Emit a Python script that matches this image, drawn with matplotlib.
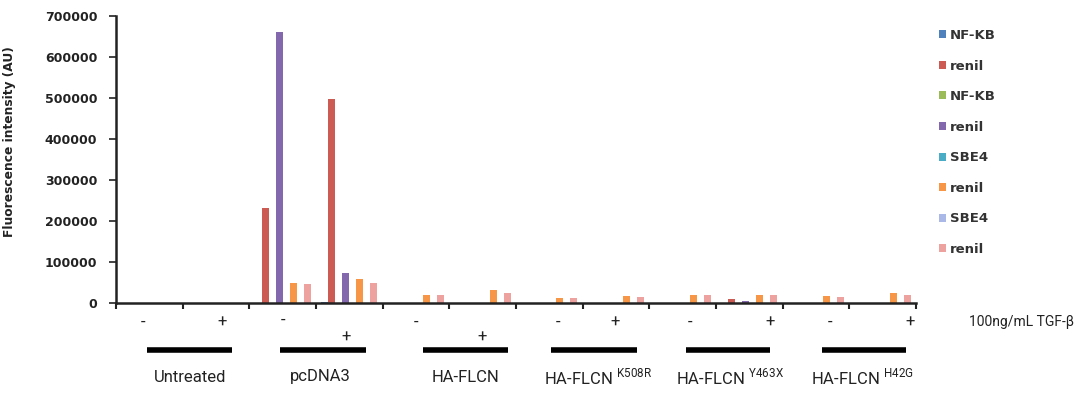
import numpy as np
import matplotlib
matplotlib.use("Agg")
import matplotlib.pyplot as plt
import matplotlib.transforms as mtransforms
from matplotlib.patches import Patch

# luciferase readings, one value per sample (6 constructs x -/+ TGF-beta)
groups = ["Untreated", "pcDNA3", "HA-FLCN",
          "HA-FLCN $^{\\mathregular{K508R}}$",
          "HA-FLCN $^{\\mathregular{Y463X}}$",
          "HA-FLCN $^{\\mathregular{H42G}}$"]
treatment = ["-", "+"] * 6

nfkb_1 = [0, 0, 0, 3000, 0, 0, 0, 0, 0, 0, 0, 0]
renil_1 = [0, 0, 232000, 497000, 0, 0, 0, 0, 0, 10000, 0, 0]
nfkb_2 = [0, 0, 0, 0, 0, 0, 0, 0, 0, 0, 0, 0]
renil_2 = [0, 0, 660000, 73000, 0, 0, 0, 0, 0, 6000, 0, 0]
sbe4_1 = [0, 0, 0, 0, 0, 0, 0, 0, 0, 0, 0, 0]
renil_3 = [0, 0, 49000, 58000, 19000, 32000, 12000, 17000, 19000, 19000, 16000, 24000]
sbe4_2 = [0, 0, 0, 0, 0, 0, 0, 0, 0, 0, 0, 0]
renil_4 = [0, 0, 46000, 49000, 19000, 24000, 12000, 14000, 19000, 19000, 14000, 20000]

series = [nfkb_1, renil_1, nfkb_2, renil_2, sbe4_1, renil_3, sbe4_2, renil_4]
labels = ["NF-KB", "renil", "NF-KB", "renil", "SBE4", "renil", "SBE4", "renil"]
colors = ["#4F81BD", "#CC5B54", "#9BBB59", "#8468AE",
          "#4BACC6", "#F79646", "#A9B8E6", "#EDA2A0"]

W, H = 1081, 398
fig = plt.figure(figsize=(W / 100, H / 100), dpi=100)
ax = fig.add_axes([116 / W, 1 - 303 / H, 800 / W, 287 / H])

n = len(treatment)
x = np.arange(n) + 0.5
width = 0.105
for i, (vals, col, lab) in enumerate(zip(series, colors, labels)):
    ax.bar(x + (i - 3.5) * width, vals, width, color=col, label=lab, linewidth=0)

ax.set_xlim(0, n)
ax.set_ylim(0, 700000)
yt = list(range(0, 700001, 100000))
ax.set_yticks(yt)
ax.set_yticklabels([str(v) for v in yt], fontsize=9, fontweight="bold", color="#222222")
ax.set_xticks(np.arange(n + 1))
ax.set_xticklabels([])
ax.tick_params(axis="x", direction="out", length=4, width=1.5, color="#222222")
ax.tick_params(axis="y", direction="out", length=5, width=1.2, pad=8.5, color="#222222")
for s in ["top", "right"]:
    ax.spines[s].set_visible(False)
for s in ["left", "bottom"]:
    ax.spines[s].set_linewidth(1.8)
    ax.spines[s].set_color("#222222")

ax.set_ylabel("Fluorescence intensity (AU)", fontsize=8.8, fontweight="bold", color="#222222")
ax.yaxis.set_label_coords(-0.125, 0.561)

handles = [Patch(facecolor=c, edgecolor="none") for c in colors]
fig.legend(handles, labels, loc="upper left", bbox_to_anchor=(939 / W, 1 - 29 / H),
           bbox_transform=fig.transFigure, frameon=False,
           prop={"weight": "bold", "size": 9.5}, handlelength=0.55, handleheight=0.55,
           handletextpad=0.3, labelspacing=1.33, borderpad=0, borderaxespad=0,
           labelcolor="#333333")

# sample annotations below the axis
trans = mtransforms.blended_transform_factory(ax.transData, fig.transFigure)
thin = ["Roboto", "DejaVu Sans"]

sign_x = [0.41, 1.59, 2.5, 3.45, 4.5, 5.49, 6.63, 7.48, 8.61, 9.81, 10.71, 11.91]
sign_y = [322, 322, 320, 337, 322, 337, 322, 322, 322, 322, 322, 322]
for t, sx, sy in zip(treatment, sign_x, sign_y):
    ax.text(sx, 1 - sy / H, t, transform=trans, ha="center", va="center",
            fontsize=12, family=thin, color="#222222")

fig.text(969 / W, 1 - 322 / H, "100ng/mL TGF-β", ha="left", va="center",
         fontsize=10, family=thin, color="#222222")

bar_spans = [(0.46, 1.74), (2.46, 3.75), (4.6, 5.88), (6.52, 7.81), (8.55, 9.81), (10.59, 11.85)]
label_x = [1.11, 3.06, 5.25, 6.42, 8.4, 10.42]
label_ha = ["center", "center", "center", "left", "left", "left"]
for g, (a, b), lx, ha in zip(groups, bar_spans, label_x, label_ha):
    ax.plot([a, b], [1 - 350 / H] * 2, transform=trans, color="black",
            linewidth=4, solid_capstyle="butt", clip_on=False)
    ax.text(lx, 1 - 377 / H, g, transform=trans, ha=ha, va="center",
            fontsize=12, family=thin, color="#222222")

fig.savefig("out.png", dpi=100)
